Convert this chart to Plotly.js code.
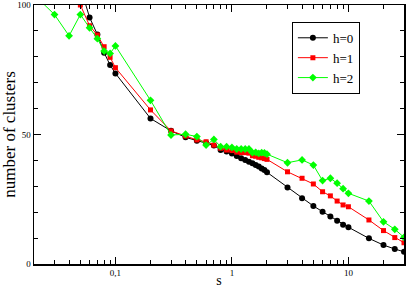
<!DOCTYPE html>
<html>
<head>
<meta charset="utf-8">
<script src="https://cdn.plot.ly/plotly-3.0.1.min.js"></script>
<style>html,body{margin:0;padding:0;background:#fff;}#chart{width:407px;height:288px;}</style>
</head>
<body>
<div id="chart"></div>
<script>
// h=0 (black)
const s0 = [0.05,0.06,0.07,0.08,0.09,0.1,0.2,0.3,0.4,0.5,0.6,0.7,0.8,0.9,1.0,1.1,1.2,1.3,1.4,1.5,1.6,1.7,1.8,1.9,2.0,3,4,5,6,7,8,9,10,15,20,25,30];
const y0 = [107,95.2,88.6,81.6,76.8,73.6,56.2,51.4,48.9,47.6,46.8,45.8,44.0,43.4,42.7,41.7,40.8,40.2,39.5,38.9,38.2,37.6,36.9,36.3,35.4,29.5,25.4,22.4,20.2,18.3,16.7,15.2,14.2,9.9,7.3,5.8,4.7];
// h=1 (red)
const s1 = [0.05,0.06,0.07,0.08,0.09,0.1,0.2,0.3,0.4,0.5,0.6,0.7,0.8,0.9,1.0,1.1,1.2,1.3,1.4,1.5,1.6,1.7,1.8,1.9,2.0,3,4,5,6,7,8,9,10,15,20,25,30];
const y1 = [100,92.0,88.4,83.9,79.8,75.8,59.5,51.4,49.4,47.9,47.2,45.9,44.7,44.0,43.8,43.2,43.0,43.0,42.8,41.8,41.6,41.2,41.0,40.7,40.4,35.6,33.1,30.9,27.9,26.3,24.3,22.8,22.1,17.0,12.9,10.2,8.2];
// h=2 (green)
const s2 = [0.02,0.03,0.04,0.05,0.06,0.07,0.08,0.09,0.1,0.2,0.3,0.4,0.5,0.6,0.7,0.8,0.9,1.0,1.1,1.2,1.3,1.4,1.5,1.6,1.7,1.8,1.9,2.0,3,4,5,6,7,8,9,10,15,20,25,30];
const y2 = [104,96.3,88.1,96.3,91.2,87.0,82.2,81.3,84.2,63.2,49.8,50.1,49.2,45.9,48.1,45.3,45.3,45.0,44.4,44.4,44.4,44.4,43.0,43.1,42.7,43.0,42.9,42.4,39.1,40.2,38.2,32.2,33.1,31.2,29.1,27.3,24.3,16.3,13.4,10.3];

const xTickVals = [0.1,1,10];
const xTickText = ["0,1","1","10"];
const xMinorVals = [0.03,0.04,0.05,0.06,0.07,0.08,0.09,0.2,0.3,0.4,0.5,0.6,0.7,0.8,0.9,2,3,4,5,6,7,8,9,20,30];
const yTickVals = [0,50,100];
const yMinorVals = [10,20,30,40,60,70,80,90];

const font = "Liberation Serif, Times New Roman, serif";

const traces = [
  {x:s0,y:y0,name:"h=0",mode:"lines+markers",line:{color:"#000000",width:1},marker:{symbol:"circle",size:6,color:"#000000"}},
  {x:s1,y:y1,name:"h=1",mode:"lines+markers",line:{color:"#ff0000",width:1},marker:{symbol:"square",size:5,color:"#ff0000"}},
  {x:s2,y:y2,name:"h=2",mode:"lines+markers",line:{color:"#00ff00",width:1},marker:{symbol:"diamond",size:6,color:"#00ff00"}}
];

const layout = {
  width:407,height:288,
  margin:{l:34,r:3,t:5,b:24},
  paper_bgcolor:"#ffffff",plot_bgcolor:"#ffffff",
  font:{family:font,color:"#000000",size:9},
  showlegend:true,
  legend:{x:0.697,y:0.935,xanchor:"left",yanchor:"top",bgcolor:"#ffffff",bordercolor:"#000000",borderwidth:1,
          font:{family:font,size:13,color:"#000000"},itemwidth:30,tracegroupgap:0},
  xaxis:{type:"log",range:[Math.log10(0.02),Math.log10(30)],
         tickmode:"array",tickvals:xTickVals,ticktext:xTickText,
         ticks:"inside",ticklen:7,tickwidth:1,tickcolor:"#000",
         minor:{tickmode:"array",tickvals:xMinorVals,ticks:"inside",ticklen:4,tickwidth:1,tickcolor:"#000",showgrid:false},
         showline:true,linecolor:"#000",linewidth:1.5,mirror:"ticks",
         showgrid:false,zeroline:false,
         tickfont:{family:font,size:9},
         title:{text:"s",font:{family:font,size:14},standoff:2}},
  yaxis:{range:[0,100],
         tickmode:"array",tickvals:yTickVals,
         ticks:"inside",ticklen:7,tickwidth:1,tickcolor:"#000",
         minor:{tickmode:"array",tickvals:yMinorVals,ticks:"inside",ticklen:4,tickwidth:1,tickcolor:"#000",showgrid:false},
         showline:true,linecolor:"#000",linewidth:1.5,mirror:"ticks",
         showgrid:false,zeroline:false,
         tickfont:{family:font,size:9},
         title:{text:"number of clusters",font:{family:font,size:17},standoff:1}}
};

Plotly.newPlot("chart",traces,layout,{staticPlot:true,displayModeBar:false});
</script>
</body>
</html>
